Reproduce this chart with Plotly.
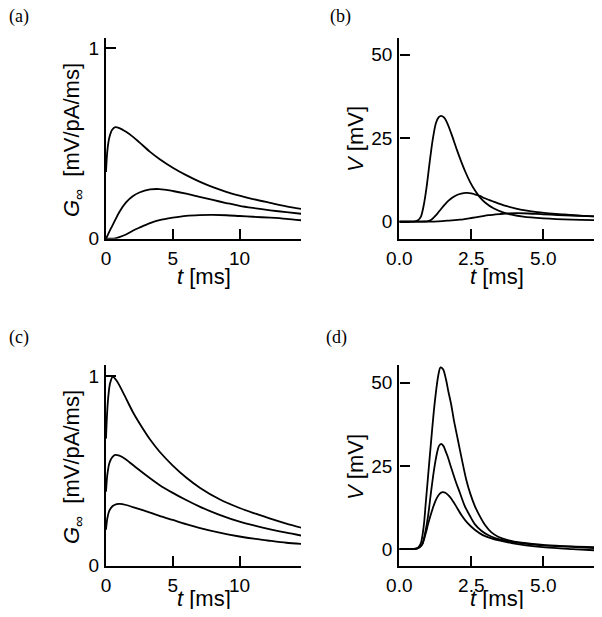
import plotly.graph_objects as go

# ---------------- data ----------------
# Panel (a): G_inf [mV/pA/ms] vs t [ms]
a_t1 = [0, 0.1, 0.25, 0.45, 0.7, 1.0, 1.5, 2.0, 2.5, 3.3, 4.0, 5.0, 6.0, 7.0, 8.0, 9.0, 10.0, 11.0, 12.3, 13.5, 14.7]
a_g1 = [0.35, 0.46, 0.53, 0.57, 0.585, 0.58, 0.56, 0.535, 0.505, 0.455, 0.418, 0.372, 0.333, 0.299, 0.27, 0.246, 0.226, 0.208, 0.188, 0.17, 0.155]
a_t2 = [0, 0.1, 0.25, 0.45, 0.7, 1.0, 1.5, 2.0, 2.5, 3.3, 4.0, 5.0, 6.0, 7.0, 8.0, 9.0, 10.0, 11.0, 12.3, 13.5, 14.7]
a_g2 = [0, 0.015, 0.037, 0.065, 0.10, 0.14, 0.19, 0.222, 0.242, 0.258, 0.26, 0.25, 0.236, 0.219, 0.203, 0.187, 0.172, 0.161, 0.149, 0.139, 0.13]
a_t3 = [0, 0.4, 0.7, 1.0, 1.5, 2.0, 2.5, 3.3, 4.0, 5.0, 6.0, 7.0, 8.0, 9.0, 10.0, 11.0, 12.3, 13.5, 14.7]
a_g3 = [0, 0.0, 0.002, 0.008, 0.022, 0.042, 0.058, 0.082, 0.097, 0.11, 0.12, 0.124, 0.125, 0.123, 0.119, 0.115, 0.11, 0.104, 0.096]

# Panel (b): V [mV] vs t [ms]
b_t1 = [0, 0.55, 0.65, 0.75, 0.85, 0.95, 1.05, 1.15, 1.27, 1.37, 1.45, 1.55, 1.65, 1.8, 2.0, 2.15, 2.3, 2.45, 2.63, 2.8, 3.0, 3.27, 3.6, 3.9, 4.3, 5.0, 6.0, 7.05]
b_v1 = [0, 0.1, 0.4, 1.5, 5, 10.5, 17.5, 24, 29.5, 31.3, 31.7, 31.2, 29.8, 26.5, 21.5, 18, 14.8, 12, 9.3, 7.3, 5.6, 4.0, 2.8, 2.1, 1.5, 1.0, 0.6, 0.4]
b_t2 = [0, 0.9, 1.0, 1.1, 1.2, 1.33, 1.45, 1.57, 1.7, 1.86, 2.0, 2.15, 2.32, 2.5, 2.62, 2.8, 2.97, 3.27, 3.43, 3.7, 4.02, 4.43, 4.72, 5.2, 5.65, 6.3, 7.05]
b_v2 = [0, 0.05, 0.15, 0.5, 1.3, 2.5, 3.8, 5.0, 6.2, 7.3, 8.0, 8.4, 8.6, 8.5, 8.2, 7.7, 7.0, 6.0, 5.5, 4.7, 4.0, 3.3, 2.9, 2.5, 2.2, 1.8, 1.5]
b_t3 = [0, 1.2, 1.5, 1.8, 2.1, 2.5, 2.8, 3.1, 3.5, 3.8, 4.1, 4.5, 5.0, 5.5, 6.0, 6.5, 7.05]
b_v3 = [0, 0.02, 0.15, 0.4, 0.6, 1.1, 1.5, 1.95, 2.3, 2.5, 2.55, 2.45, 2.2, 2.0, 1.8, 1.65, 1.5]

# Panel (c): G_inf [mV/pA/ms] vs t [ms]
c_t1 = [0, 0.08, 0.17, 0.3, 0.5, 0.8, 1.3, 2.05, 2.8, 3.3, 4.0, 5.0, 6.0, 7.05, 8.5, 10.0, 11.2, 12.3, 13.5, 14.7]
c_g1 = [0.67, 0.80, 0.89, 0.96, 0.995, 0.975, 0.91, 0.805, 0.718, 0.665, 0.602, 0.528, 0.465, 0.41, 0.35, 0.304, 0.274, 0.248, 0.222, 0.199]
c_t2 = [0, 0.1, 0.25, 0.45, 0.68, 1.0, 1.5, 2.2, 3.3, 4.0, 5.0, 6.0, 7.05, 8.5, 10.0, 11.2, 12.3, 13.5, 14.7]
c_g2 = [0.39, 0.48, 0.54, 0.57, 0.584, 0.58, 0.56, 0.52, 0.461, 0.426, 0.384, 0.346, 0.31, 0.268, 0.232, 0.21, 0.192, 0.174, 0.158]
c_t3 = [0, 0.1, 0.25, 0.5, 0.8, 1.05, 1.5, 2.2, 3.3, 4.0, 5.0, 6.0, 7.05, 8.5, 10.0, 11.2, 12.3, 13.5, 14.7]
c_g3 = [0.19, 0.25, 0.29, 0.315, 0.325, 0.326, 0.32, 0.305, 0.28, 0.263, 0.241, 0.219, 0.198, 0.174, 0.154, 0.141, 0.131, 0.121, 0.114]

# Panel (d): V [mV] vs t [ms]
d_t1 = [0, 0.55, 0.65, 0.75, 0.85, 0.92, 1.0, 1.1, 1.2, 1.27, 1.35, 1.43, 1.52, 1.62, 1.7, 1.8, 1.9, 2.03, 2.17, 2.32, 2.47, 2.62, 2.8, 2.97, 3.2, 3.43, 3.8, 4.25, 5.07, 6.0, 7.07]
d_v1 = [0, 0.1, 0.4, 1.8, 7, 14, 22, 32, 41.5, 47, 52, 54.6, 54, 51, 47.5, 43.5, 38.5, 33, 27, 21, 16.5, 13, 9.8, 7.3, 5.0, 3.7, 2.6, 1.9, 1.2, 0.8, 0.5]
d_t2 = [0, 0.6, 0.7, 0.8, 0.9, 1.0, 1.1, 1.2, 1.3, 1.38, 1.45, 1.53, 1.6, 1.68, 1.8, 1.97, 2.1, 2.27, 2.45, 2.62, 2.85, 3.08, 3.35, 3.67, 4.1, 4.49, 5.0, 5.65, 6.3, 7.07]
d_v2 = [0, 0.1, 0.5, 1.5, 5, 10, 17, 23.5, 28.5, 31, 31.6, 31, 29.6, 27.8, 24.5, 20, 17, 13, 10, 7.5, 5.5, 4.2, 3.2, 2.5, 1.9, 1.5, 1.1, 0.8, 0.5, 0.2]
d_t3 = [0, 0.6, 0.7, 0.8, 0.92, 1.0, 1.1, 1.2, 1.3, 1.4, 1.5, 1.6, 1.7, 1.8, 1.95, 2.15, 2.35, 2.62, 2.9, 3.2, 3.5, 3.9, 4.4, 5.07, 6.0, 7.07]
d_v3 = [0, 0.1, 0.5, 1.5, 4.8, 7.5, 10.5, 13.2, 15.3, 16.6, 17.1, 16.9, 16.2, 15.2, 13.2, 10.3, 8, 5.8, 4.2, 3.2, 2.5, 1.8, 1.1, 0.5, 0.0, -0.5]

g_ticks = [0, 1]
g_tick_text = ["0", "1"]
tg_ticks = [0, 5, 10]
tg_tick_text = ["0", "5", "10"]
v_ticks = [0, 25, 50]
v_tick_text = ["0", "25", "50"]
tv_ticks = [0, 2.5, 5.0]
tv_tick_text = ["0.0", "2.5", "5.0"]

panel_labels = ["(a)", "(b)", "(c)", "(d)"]
x_title = "<i>t</i> [ms]"
g_title = "<i>G</i><sub>∞</sub>  [mV/pA/ms]"
v_title = "<i>V</i> [mV]"

# ---------------- figure ----------------
# the page body keeps an 8px margin; the figure is sized so the page fits the window exactly
OFF = 8
W, H = 602 - 2 * OFF, 617 - 2 * OFF
fig = go.Figure()

line_style = dict(color="black", width=1.8, shape="spline", smoothing=0.8)
series = [
    ("x", "y", a_t1, a_g1), ("x", "y", a_t2, a_g2), ("x", "y", a_t3, a_g3),
    ("x2", "y2", b_t1, b_v1), ("x2", "y2", b_t2, b_v2), ("x2", "y2", b_t3, b_v3),
    ("x3", "y3", c_t1, c_g1), ("x3", "y3", c_t2, c_g2), ("x3", "y3", c_t3, c_g3),
    ("x4", "y4", d_t1, d_v1), ("x4", "y4", d_t2, d_v2), ("x4", "y4", d_t3, d_v3),
]
for xa, ya, tx, vy in series:
    fig.add_trace(go.Scatter(x=tx, y=vy, mode="lines", line=line_style,
                             xaxis=xa, yaxis=ya, showlegend=False, hoverinfo="skip"))

def px_x(p):
    return (p - OFF) / W

def px_y(p):
    return 1 - (p - OFF) / H

tick_font = dict(family="Liberation Sans, Arial, sans-serif", size=19, color="black")
axis_common = dict(showline=True, linecolor="black", linewidth=2.4, ticks="inside",
                   ticklen=10, tickwidth=2.4, tickcolor="black", showgrid=False,
                   zeroline=False, tickfont=tick_font, ticklabelstandoff=1)

# right panels: keep the reference scale (28.8 px per ms) up to the window edge
right_end_px = OFF + W
right_tmax = (right_end_px - 399.3) / 28.8

left_dom = [px_x(106), px_x(301)]
right_dom = [px_x(399.3), 1.0]
top_dom = [px_y(238.7), px_y(38)]
bot_dom = [px_y(565.7), px_y(365)]

fig.update_layout(
    width=W, height=H, margin=dict(l=0, r=0, t=0, b=0, autoexpand=False),
    paper_bgcolor="white", plot_bgcolor="white",
    xaxis=dict(domain=left_dom, range=[0, 14.6], tickvals=tg_ticks, ticktext=tg_tick_text, anchor="y", **axis_common),
    yaxis=dict(domain=top_dom, range=[0, 1.052], tickvals=g_ticks, ticktext=g_tick_text, anchor="x", **axis_common),
    xaxis2=dict(domain=right_dom, range=[0, right_tmax], tickvals=tv_ticks, ticktext=tv_tick_text, anchor="y2", **axis_common),
    yaxis2=dict(domain=top_dom, range=[-5.1, 55.0], tickvals=v_ticks, ticktext=v_tick_text, anchor="x2", **axis_common),
    xaxis3=dict(domain=left_dom, range=[0, 14.6], tickvals=tg_ticks, ticktext=tg_tick_text, anchor="y3", **axis_common),
    yaxis3=dict(domain=bot_dom, range=[0, 1.058], tickvals=g_ticks, ticktext=g_tick_text, anchor="x3", **axis_common),
    xaxis4=dict(domain=right_dom, range=[0, right_tmax], tickvals=tv_ticks, ticktext=tv_tick_text, anchor="y4", **axis_common),
    yaxis4=dict(domain=bot_dom, range=[-5.0, 55.3], tickvals=v_ticks, ticktext=v_tick_text, anchor="x4", **axis_common),
)

title_font = dict(family="Liberation Sans, Arial, sans-serif", size=22, color="black")
label_font = dict(family="Liberation Serif, Times New Roman, serif", size=18, color="black")

annotations = []
for txt, (cx, cy) in zip(panel_labels, [(19, 17), (340, 17), (19, 337), (336, 337)]):
    annotations.append(dict(text=txt, x=px_x(cx), y=px_y(cy), xref="paper", yref="paper",
                            xanchor="center", yanchor="middle", showarrow=False, font=label_font))
for cx, cy in [(204, 276), (497, 276), (204, 598.5), (497, 598.5)]:
    annotations.append(dict(text=x_title, x=px_x(cx), y=px_y(cy), xref="paper", yref="paper",
                            xanchor="center", yanchor="middle", showarrow=False, font=title_font))
for txt, (cx, cy) in [(g_title, (73, 140)), (v_title, (355, 139)), (g_title, (73, 467)), (v_title, (355, 467))]:
    annotations.append(dict(text=txt, x=px_x(cx), y=px_y(cy), xref="paper", yref="paper",
                            xanchor="center", yanchor="middle", showarrow=False, font=title_font,
                            textangle=-90))
fig.update_layout(annotations=annotations)

fig.write_html("out.html")
